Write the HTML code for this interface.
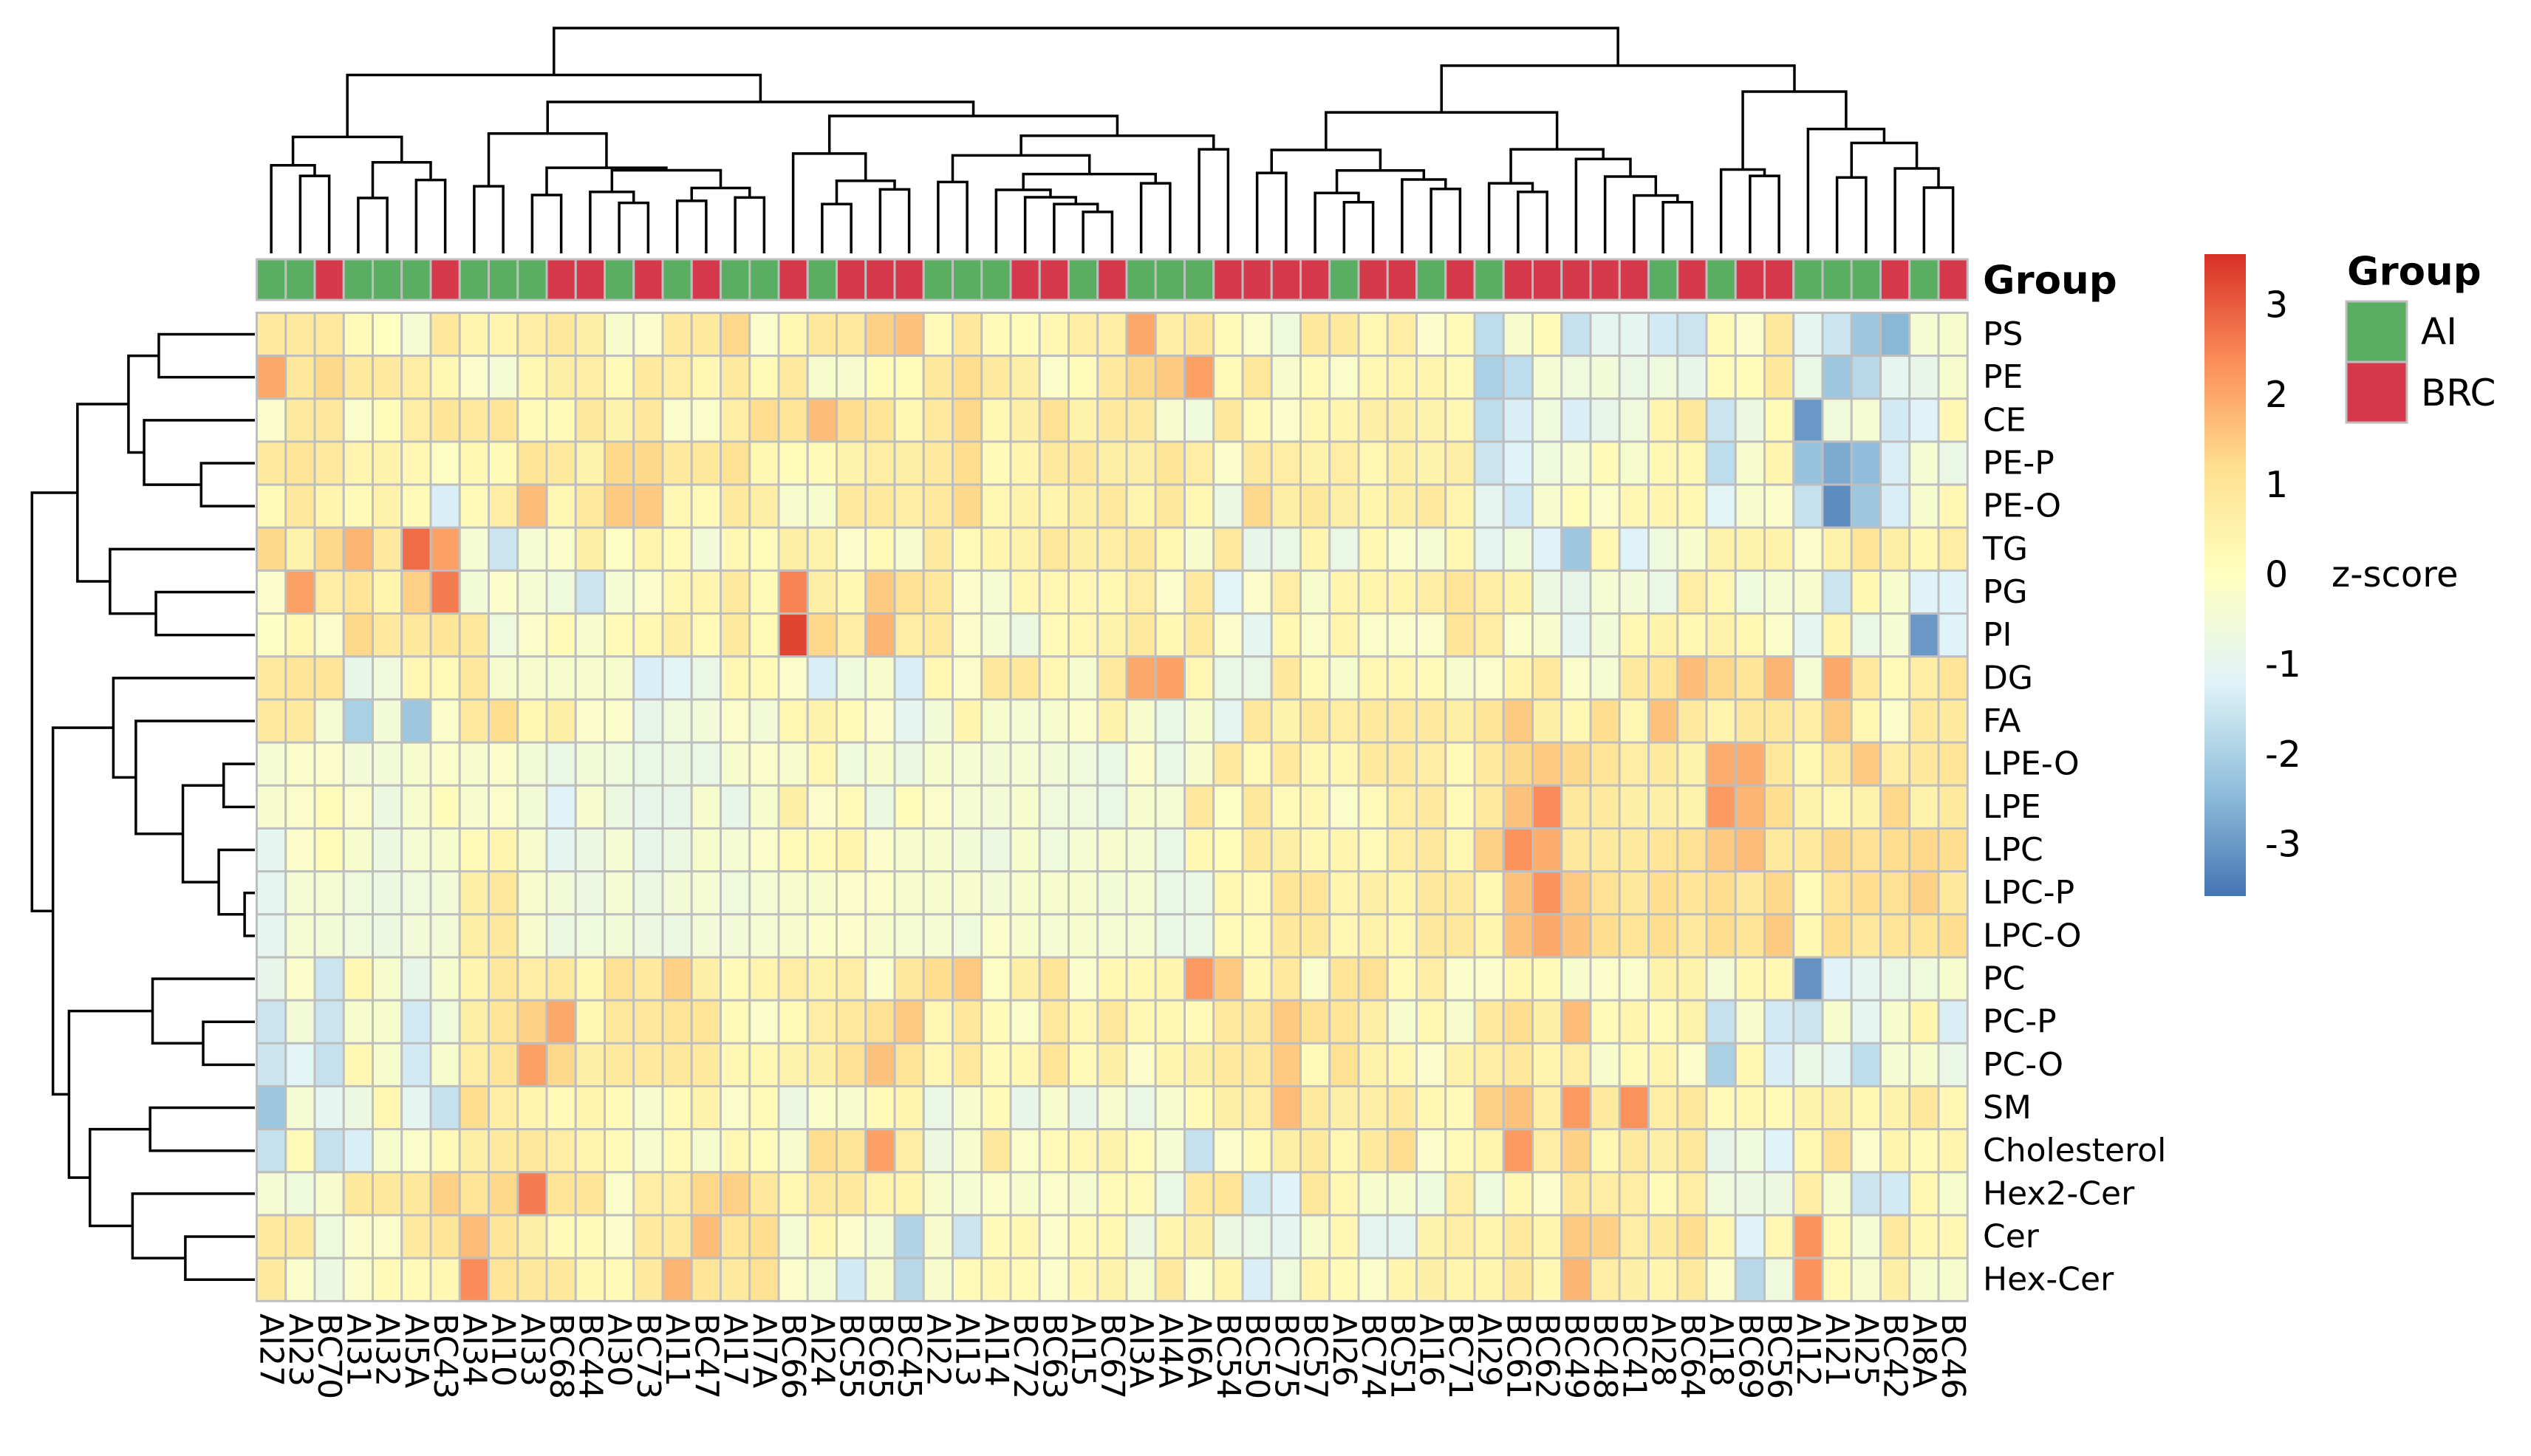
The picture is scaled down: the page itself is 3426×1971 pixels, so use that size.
<!DOCTYPE html>
<html><head><meta charset="utf-8"><style>
html,body{margin:0;padding:0;background:#fff;}
svg{display:block;font-family:"DejaVu Sans","Liberation Sans",sans-serif;}
</style></head><body>
<svg id="chart" width="3426" height="1971" viewBox="0 0 3426 1971" xmlns="http://www.w3.org/2000/svg">
<defs>
<linearGradient id="cbar" x1="0" y1="1" x2="0" y2="0">
<stop offset="0" stop-color="#4575B4"/><stop offset="0.1667" stop-color="#91BFDB"/><stop offset="0.3333" stop-color="#E0F3F8"/><stop offset="0.5" stop-color="#FFFFBF"/><stop offset="0.6667" stop-color="#FEE090"/><stop offset="0.8333" stop-color="#FC8D59"/><stop offset="1" stop-color="#D73027"/>
</linearGradient>
</defs>
<g id="dendro-cols"></g>
<g id="dendro-rows"></g>
<g id="groupbar"></g>
<g id="cells"></g>
<g id="rowlabels"></g>
<g id="collabels"></g>
<text x="2684" y="380" font-size="53" font-weight="bold" dominant-baseline="central">Group</text>
<rect x="2984" y="344" width="56" height="869" fill="url(#cbar)"/>
<g id="cbticks"></g>
<text x="3156" y="778" font-size="48" dominant-baseline="central">z-score</text>
<text x="3177" y="368" font-size="53" font-weight="bold" dominant-baseline="central">Group</text>
<g>
<rect x="3176" y="408" width="82" height="82" fill="#5AAE61" stroke="#BEBEBE" stroke-width="3"/>
<text x="3277" y="449" font-size="50" dominant-baseline="central">AI</text>
</g>
<g>
<rect x="3176" y="490" width="82" height="82" fill="#D6394C" stroke="#BEBEBE" stroke-width="3"/>
<text x="3277" y="532" font-size="50" dominant-baseline="central">BRC</text>
</g>
</svg>
<script>
const rowNames = ["PS","PE","CE","PE-P","PE-O","TG","PG","PI","DG","FA","LPE-O","LPE","LPC","LPC-P","LPC-O","PC","PC-P","PC-O","SM","Cholesterol","Hex2-Cer","Cer","Hex-Cer"];
const colNames = ["AI27","AI23","BC70","AI31","AI32","AI5A","BC43","AI34","AI10","AI33","BC68","BC44","AI30","BC73","AI11","BC47","AI17","AI7A","BC66","AI24","BC55","BC65","BC45","AI22","AI13","AI14","BC72","BC63","AI15","BC67","AI3A","AI4A","AI6A","BC54","BC50","BC75","BC57","AI26","BC74","BC51","AI16","BC71","AI29","BC61","BC62","BC49","BC48","BC41","AI28","BC64","AI18","BC69","BC56","AI12","AI21","AI25","BC42","AI8A","BC46"];
const groups = ["AI","AI","BRC","AI","AI","AI","BRC","AI","AI","AI","BRC","BRC","AI","BRC","AI","BRC","AI","AI","BRC","AI","BRC","BRC","BRC","AI","AI","AI","BRC","BRC","AI","BRC","AI","AI","AI","BRC","BRC","BRC","BRC","AI","BRC","BRC","AI","BRC","AI","BRC","BRC","BRC","BRC","BRC","AI","BRC","AI","BRC","BRC","AI","AI","AI","BRC","AI","BRC"];
const colorTicks = [3,2,1,0,-1,-2,-3];
const zscores = [
[0.8,0.8,0.8,0.2,0.0,-0.4,0.9,0.4,0.4,0.7,0.9,0.6,-0.3,-0.2,0.8,0.8,1.3,-0.2,0.3,0.9,0.8,1.4,1.6,0.2,0.9,0.2,0.1,0.3,0.7,0.7,2.0,0.7,0.9,0.2,-0.2,-0.6,0.9,0.8,0.3,0.7,-0.2,0.2,-1.7,-0.3,0.2,-1.6,-1.0,-1.0,-1.4,-1.5,0.2,-0.2,0.9,-1.0,-1.5,-2.2,-2.5,-0.4,-0.3],
[2.0,0.9,1.3,0.8,0.8,0.7,0.3,-0.2,-0.4,0.3,0.6,0.7,0.2,0.8,0.7,0.3,0.8,0.2,0.8,-0.3,-0.3,0.1,0.1,0.9,1.2,0.8,0.6,-0.2,0.1,0.8,1.3,1.5,2.1,0.2,0.9,-0.3,0.2,-0.2,0.3,0.4,0.4,0.2,-2.0,-1.7,-0.4,-0.6,-0.5,-0.8,-0.6,-0.9,0.1,0.1,0.9,-0.8,-2.2,-1.8,-1.0,-0.9,-0.3],
[-0.2,0.8,0.9,-0.2,0.1,0.7,1.0,0.8,1.0,0.2,0.2,0.9,0.5,0.9,-0.2,-0.2,0.7,1.2,1.0,1.7,1.2,1.0,0.3,0.8,1.3,0.3,0.6,1.1,0.5,0.8,0.8,-0.3,-0.6,0.9,0.2,-0.2,0.3,0.4,0.6,0.6,0.5,0.3,-1.7,-1.3,-0.6,-1.3,-0.9,-0.6,0.4,0.9,-1.5,-0.7,0.2,-3.0,-0.6,-0.4,-1.4,-1.2,0.3],
[0.8,1.0,0.8,0.4,0.5,0.3,-0.1,0.3,0.2,1.0,0.8,0.5,1.3,1.3,0.8,0.9,1.1,0.3,0.1,0.2,0.5,0.7,0.6,0.8,1.2,0.2,0.4,0.8,0.9,0.6,0.6,1.0,0.7,-0.2,0.8,0.7,0.5,0.7,0.3,0.6,0.5,0.6,-1.5,-1.2,-0.6,-0.4,0.2,-0.3,0.3,0.3,-1.7,-0.3,0.4,-2.3,-2.7,-2.4,-1.3,-0.4,-0.8],
[0.2,0.9,0.4,0.2,0.5,0.2,-1.3,0.2,0.7,1.7,0.3,0.8,1.5,1.5,0.3,0.2,0.8,0.6,-0.3,-0.3,0.8,0.8,0.7,0.8,1.3,0.3,0.5,0.4,0.6,0.8,0.4,0.9,0.3,-0.7,1.3,0.6,0.9,0.6,0.4,0.6,0.8,0.4,-1.0,-1.4,-0.3,0.1,-0.2,0.3,0.4,0.3,-1.1,-0.3,-0.2,-1.6,-3.2,-2.2,-1.3,-0.3,0.3],
[1.3,0.5,1.3,1.8,0.8,2.8,2.1,-0.4,-1.5,-0.4,-0.2,0.6,-0.1,0.4,0.2,-0.5,0.3,0.1,0.6,0.5,-0.2,0.2,-0.3,0.8,0.2,0.4,0.5,0.9,0.6,0.7,0.9,0.3,-0.3,0.8,-0.9,-0.8,0.4,-0.8,0.3,-0.2,-0.4,0.3,-1.0,-0.6,-1.2,-2.2,0.3,-1.2,-0.6,-0.3,0.5,0.5,0.5,-0.2,0.5,1.0,0.6,0.3,0.7],
[-0.2,2.1,0.7,1.0,0.4,1.4,2.6,-0.5,-0.2,-0.4,-0.6,-1.5,-0.4,-0.2,0.3,0.4,0.8,0.2,2.5,0.6,0.3,1.5,1.1,0.9,-0.2,-0.4,0.3,0.3,0.3,0.3,0.7,-0.2,0.8,-1.1,-0.2,0.7,-0.3,0.4,0.4,0.4,0.7,1.0,0.7,0.5,-0.7,-0.9,-0.4,-0.5,-0.8,0.7,0.3,-0.6,-0.4,-0.3,-1.5,0.3,-0.3,-1.2,-1.2],
[-0.1,0.3,-0.2,1.3,0.8,0.9,1.0,0.9,-0.6,-0.2,0.2,-0.3,0.2,0.3,0.6,0.2,0.8,0.2,3.3,1.3,0.7,1.8,0.7,0.8,-0.2,-0.4,-0.7,0.2,0.3,0.5,0.8,0.3,0.8,-0.2,-1.0,0.3,-0.2,0.4,-0.2,-0.2,-0.2,1.0,0.7,-0.2,-0.3,-1.0,-0.5,0.3,0.5,0.3,0.5,0.3,-0.2,-1.0,0.4,-0.8,-0.4,-3.0,-1.2],
[0.8,1.0,1.0,-0.9,-0.6,0.3,0.2,0.9,-0.3,-0.3,-0.3,-0.3,-0.3,-1.3,-1.1,-0.8,0.3,0.2,-0.2,-1.3,-0.6,-0.3,-1.3,0.3,-0.2,0.9,0.9,0.3,-0.3,0.8,2.0,2.1,0.3,-0.8,-0.8,0.9,0.2,-0.3,0.3,0.3,0.2,-0.3,-0.2,0.4,0.8,-0.2,-0.4,0.8,1.0,1.7,1.3,1.0,1.8,-0.4,2.0,0.8,0.2,0.7,1.0],
[0.8,0.8,-0.4,-2.0,-0.5,-2.2,-0.2,0.8,1.2,0.3,0.6,-0.2,-0.2,-0.9,-0.6,-0.5,-0.2,-0.5,0.3,0.5,0.2,-0.2,-1.0,-0.5,0.4,-0.3,-0.4,-0.3,-0.2,0.5,-0.3,-0.8,-0.3,-1.0,0.9,0.5,0.8,0.7,0.8,0.8,0.8,0.6,1.0,1.5,0.6,0.3,1.2,0.3,1.6,0.8,0.4,0.9,0.9,0.7,1.5,0.3,-0.2,0.8,0.8],
[-0.4,-0.2,-0.2,-0.5,-0.5,-0.3,-0.2,-0.3,-0.2,-0.5,-0.8,-0.5,-0.6,-0.8,-0.7,-0.8,-0.3,-0.2,-0.3,0.3,-0.6,-0.3,-0.7,-0.3,-0.4,-0.5,-0.4,-0.5,-0.6,-0.8,-0.2,-0.8,-0.3,0.8,0.2,0.8,0.3,0.3,0.8,0.8,0.7,0.2,0.8,1.3,1.5,1.3,1.0,0.7,0.8,0.5,1.9,1.9,0.9,0.3,0.9,1.5,0.7,0.9,1.0],
[-0.3,-0.2,0.1,-0.2,-0.7,-0.3,0.1,-0.3,-0.2,-0.5,-1.2,-0.3,-0.7,-0.9,-0.9,-0.3,-0.9,-0.3,0.6,-0.2,0.2,-0.7,0.1,-0.2,-0.4,-0.5,-0.3,-0.6,-0.6,-0.8,-0.3,-0.4,0.9,-0.1,0.9,0.2,0.3,-0.2,0.2,0.7,0.8,0.2,0.8,1.6,2.4,0.9,0.8,0.6,0.6,0.5,2.2,1.8,1.2,0.5,0.3,0.5,1.3,0.5,0.8],
[-1.0,-0.2,0.1,-0.3,-0.7,-0.4,-0.3,0.2,0.4,-0.3,-1.0,-0.7,-0.4,-0.9,-0.7,-0.3,-0.4,-0.2,0.2,0.2,0.4,-0.2,-0.3,-0.3,-0.5,-0.7,-0.3,-0.6,-0.4,-0.3,-0.4,-0.8,0.3,0.1,0.8,0.6,0.3,0.4,0.2,0.7,0.9,0.3,1.4,2.3,1.9,0.9,0.8,0.8,1.0,1.1,1.5,1.7,0.8,0.8,1.3,1.1,1.2,1.3,1.2],
[-1.0,-0.4,-0.4,-0.6,-0.7,-0.6,-0.5,0.6,0.9,-0.3,-0.5,-0.7,-0.4,-0.7,-0.5,-0.4,-0.6,-0.4,-0.3,-0.3,-0.2,-0.2,-0.3,-0.3,-0.3,-0.5,-0.3,-0.3,-0.3,-0.5,-0.4,-0.8,-0.8,0.3,0.2,1.0,1.0,0.4,0.6,0.4,0.9,0.8,0.3,1.6,2.3,1.5,1.1,0.9,1.2,1.0,1.2,0.9,1.3,0.2,1.0,1.2,1.1,1.4,0.9],
[-1.0,-0.4,-0.5,-0.6,-0.7,-0.5,-0.5,0.6,0.9,-0.3,-0.7,-0.6,-0.5,-0.7,-0.7,-0.5,-0.5,-0.4,-0.3,-0.2,-0.2,-0.3,-0.4,-0.4,-0.6,-0.2,-0.3,-0.4,-0.3,-0.4,-0.4,-0.8,-0.8,0.2,0.2,0.9,0.9,0.3,0.5,0.3,0.9,0.9,0.4,1.6,2.0,1.6,1.2,1.0,1.2,0.8,1.2,1.0,1.5,0.3,1.2,0.9,1.0,1.0,1.2],
[-0.9,-0.2,-1.5,0.3,-0.3,-0.9,-0.3,0.4,0.9,0.7,0.8,0.3,1.1,0.8,1.4,0.6,0.2,0.4,0.7,0.5,0.7,-0.2,0.9,1.2,1.5,-0.1,0.6,1.0,-0.2,0.3,0.3,0.4,2.2,1.5,0.3,0.8,-0.2,1.0,1.1,0.2,0.7,-0.2,-0.2,0.3,0.2,-0.3,-0.2,-0.2,0.5,0.5,-0.4,0.3,0.3,-3.1,-1.2,-1.0,-0.8,-0.6,-0.3],
[-1.5,-0.5,-1.5,-0.3,-0.3,-1.4,-0.6,0.6,1.0,1.4,2.0,0.3,0.9,0.9,1.0,1.0,0.2,-0.2,0.2,0.7,0.8,1.1,1.5,0.3,0.9,0.2,-0.2,0.8,0.3,0.9,0.3,0.3,0.2,0.8,0.9,1.5,1.1,1.0,0.6,-0.3,0.3,-0.3,0.8,1.2,0.6,1.7,0.2,0.4,0.2,0.5,-1.6,-0.3,-1.4,-1.5,-0.3,-1.0,-0.3,0.4,-1.3],
[-1.5,-1.1,-1.6,0.3,-0.3,-1.4,-0.3,0.7,1.0,2.1,1.3,0.6,0.8,0.8,0.9,0.8,0.3,0.3,0.5,0.6,1.1,1.6,1.0,0.3,0.8,0.2,0.3,1.0,0.2,0.6,-0.2,0.4,0.6,0.8,0.8,1.5,0.2,1.1,0.5,0.3,-0.2,0.5,0.7,0.9,0.4,0.7,-0.3,0.2,0.4,-0.2,-2.0,0.3,-1.3,-0.8,-1.0,-1.7,-0.4,-0.3,-0.8],
[-2.2,-0.4,-1.0,-0.7,0.3,-1.0,-1.6,1.2,0.7,0.4,0.2,0.4,0.2,-0.3,0.2,0.5,-0.2,0.2,-0.7,-0.2,-0.3,0.2,0.4,-0.8,-0.3,0.2,-0.9,-0.3,-0.9,-0.3,-0.8,-0.3,0.2,0.6,0.7,1.7,0.8,0.6,0.6,0.8,0.3,0.2,1.4,1.6,0.7,2.2,0.8,2.3,0.7,0.9,0.2,0.3,0.2,0.5,0.6,0.3,0.5,0.9,0.3],
[-1.6,0.2,-1.6,-1.3,-0.3,-0.2,0.2,0.6,0.8,0.9,0.7,0.4,0.2,-0.3,0.2,-0.3,0.3,0.1,-0.3,1.2,1.0,2.1,0.7,-0.7,-0.3,0.9,-0.2,0.2,0.3,0.5,0.1,-0.4,-1.6,-0.2,0.2,0.6,0.8,0.3,0.8,1.2,-0.2,0.2,0.4,2.2,0.7,1.4,0.3,0.8,0.6,0.9,-0.9,-0.6,-1.2,0.3,1.1,-0.2,0.4,0.2,0.4],
[-0.4,-0.6,-0.3,0.9,0.9,0.9,1.4,1.0,1.3,2.6,1.0,1.0,-0.2,0.7,0.7,1.3,1.4,0.9,0.3,0.8,0.8,0.4,0.4,-0.3,-0.4,-0.2,-0.3,-0.2,-0.3,0.2,0.2,-0.8,0.8,1.0,-1.4,-1.2,0.9,0.3,-0.3,-0.3,-0.6,0.7,-0.6,0.3,-0.2,0.9,0.7,0.7,0.2,0.7,-0.6,-0.7,-0.7,0.7,-0.3,-1.5,-1.4,0.3,-0.3],
[0.8,0.8,-0.6,-0.2,-0.2,0.8,1.0,1.7,1.0,0.6,0.2,0.2,-0.2,0.8,0.8,1.7,1.0,1.2,-0.4,0.3,-0.2,-0.4,-1.9,-0.3,-1.5,0.2,0.3,-0.2,0.2,0.3,-0.7,0.4,0.6,-0.7,-0.8,-1.0,-0.3,0.3,-1.0,-1.0,0.5,0.7,0.4,0.8,0.4,1.5,1.4,0.7,0.8,1.2,0.3,-1.2,0.3,2.3,0.2,-0.4,0.8,0.3,0.3],
[0.8,-0.2,-0.7,-0.2,0.2,0.2,0.3,2.4,1.0,0.9,0.9,0.3,0.2,0.8,1.8,1.0,0.8,1.1,-0.2,-0.4,-1.4,-0.3,-1.8,-0.3,0.2,0.3,0.2,-0.2,0.3,0.5,-0.3,0.8,-0.2,0.4,-1.3,-0.6,0.4,0.2,-0.2,0.4,0.6,0.4,0.4,0.9,0.3,1.8,0.7,0.6,0.4,0.8,-0.2,-1.8,-0.6,2.3,0.2,-0.3,0.6,-0.3,-0.3]
];
// column dendrogram nodes: [left, right, mergeHeight]; leaves = 1-based column numbers
const cF = [[1,[2,3,34.4],39.1],[[4,5,24.6],[6,7,32.6],40.4],51.7];
const cN = [[12,[13,14,22.4],27.3],[[15,16,23.3],[17,18,24.8],29.0],36.9];
const cP = [[8,9,29.8],[[10,11,25.9],cN,38.0],53.2];
const cT = [19,[[20,21,21.9],[22,23,28.4],32.2],44.3];
const cY = [26,[27,[28,[29,30,18.4],21.9],24.9],28.2];
const cAD = [[[24,25,31.7],[cY,[31,32,31.1],35.2],43.5],[33,34,46.2],52.2];
const cAG = [cF,[cP,[cT,cAD,61.0],67.2],79.2];
const cBG = [[35,36,35.7],[[37,[38,39,22.7],26.8],[40,[41,42,28.6],32.8],36.8],45.9];
const cBN = [[43,[44,45,27.3],31.1],[46,[47,[48,[49,50,22.7],25.7],34.1],41.9],46.2];
const cBW = [[51,[52,53,34.4],37.2],[54,[[55,56,33.7],[57,[58,59,29.2],37.7],49.0],55.2],71.8];
const colTree = [cAG,[[cBG,cBN,62.6],cBW,83.3],100];
// row dendrogram nodes; leaves = 1-based row numbers
const rA = [[[1,2,43.1],[3,[4,5,24.1],49.7],56.7],[6,[7,8,44.4],65.0],79.6];
const rB = [9,[10,[[11,12,14.0],[13,[14,15,4.6],16.2],32.3],53.4],63.5];
const rC = [[16,[17,18,23.2],45.9],[[19,20,47.0],[21,[22,23,31.2],54.9],74.0],83.4];
const rowTree = [rA,[rB,rC,90.6],100];

const NS = "http://www.w3.org/2000/svg";
const X0 = 347.5, CW = 39.25, Y0 = 423.4, RH = 58.17;
const zMin = -3.57, zMax = 3.57;
const palette = [[69,117,180],[145,191,219],[224,243,248],[255,255,191],[254,224,144],[252,141,89],[215,48,39]];
function xScale(i){ return X0 + CW * i; }
function yScale(j){ return Y0 + RH * j; }
function colorOf(v){
  const t = (Math.max(zMin, Math.min(zMax, v)) - zMin) / (zMax - zMin) * (palette.length - 1);
  const k = Math.min(palette.length - 2, Math.floor(t)); const f = t - k;
  const c = palette[k].map((a, idx) => Math.round(a + (palette[k + 1][idx] - a) * f));
  return "rgb(" + c.join(",") + ")";
}
function cbY(v){ return 778 - v * 121.7; }
function colDendY(h){ return 343 - h * 3.05; }
function rowDendX(h){ return 345 - h * 3.017; }
function mk(tag, attrs, parent){
  const el = document.createElementNS(NS, tag);
  for (const k in attrs) el.setAttribute(k, attrs[k]);
  parent.appendChild(el); return el;
}

const gCells = document.getElementById("cells");
zscores.forEach((row, j) => {
  row.forEach((v, i) => {
    const r = mk("rect", {x: xScale(i), y: yScale(j), width: CW, height: RH, fill: colorOf(v), stroke: "#BEBEBE", "stroke-width": 3}, gCells);
    
    
  });
});

const gGroup = document.getElementById("groupbar");
groups.forEach((g, i) => {
  const r = mk("rect", {x: xScale(i), y: 351, width: CW, height: 55, fill: g === "AI" ? "#5AAE61" : "#D6394C", stroke: "#BEBEBE", "stroke-width": 3}, gGroup);
  
  
});

const gRL = document.getElementById("rowlabels");
rowNames.forEach((n, j) => {
  const t = mk("text", {x: 2684, y: yScale(j) + RH / 2, "font-size": 44, "dominant-baseline": "central"}, gRL);
  t.textContent = n;
  
  
});

const gCL = document.getElementById("collabels");
colNames.forEach((n, i) => {
  const cx = xScale(i) + CW / 2;
  const t = mk("text", {x: cx, y: 1778, "font-size": 44, "dominant-baseline": "central", transform: "rotate(90 " + cx + " 1778)"}, gCL);
  t.textContent = n;
  
  
});

const gT = document.getElementById("cbticks");
colorTicks.forEach(v => {
  const t = mk("text", {x: 3066, y: cbY(v), "font-size": 49, "dominant-baseline": "central"}, gT);
  t.textContent = String(v);
  
  
});

const gDC = document.getElementById("dendro-cols");
function drawCol(node){
  if (typeof node === "number") return {p: xScale(node - 1) + CW / 2, h: 0};
  const a = drawCol(node[0]), b = drawCol(node[1]), y = colDendY(node[2]);
  const d = "M" + a.p + " " + colDendY(a.h) + "V" + y + "H" + b.p + "V" + colDendY(b.h);
  const p = mk("path", {d: d, fill: "none", stroke: "#000", "stroke-width": 3.5}, gDC);
  
  
  return {p: (a.p + b.p) / 2, h: node[2]};
}
drawCol(colTree);
const gDR = document.getElementById("dendro-rows");
function drawRow(node){
  if (typeof node === "number") return {p: yScale(node - 1) + RH / 2, h: 0};
  const a = drawRow(node[0]), b = drawRow(node[1]), x = rowDendX(node[2]);
  const d = "M" + rowDendX(a.h) + " " + a.p + "H" + x + "V" + b.p + "H" + rowDendX(b.h);
  const p = mk("path", {d: d, fill: "none", stroke: "#000", "stroke-width": 3.5}, gDR);
  
  
  return {p: (a.p + b.p) / 2, h: node[2]};
}
drawRow(rowTree);
</script>
</body></html>
